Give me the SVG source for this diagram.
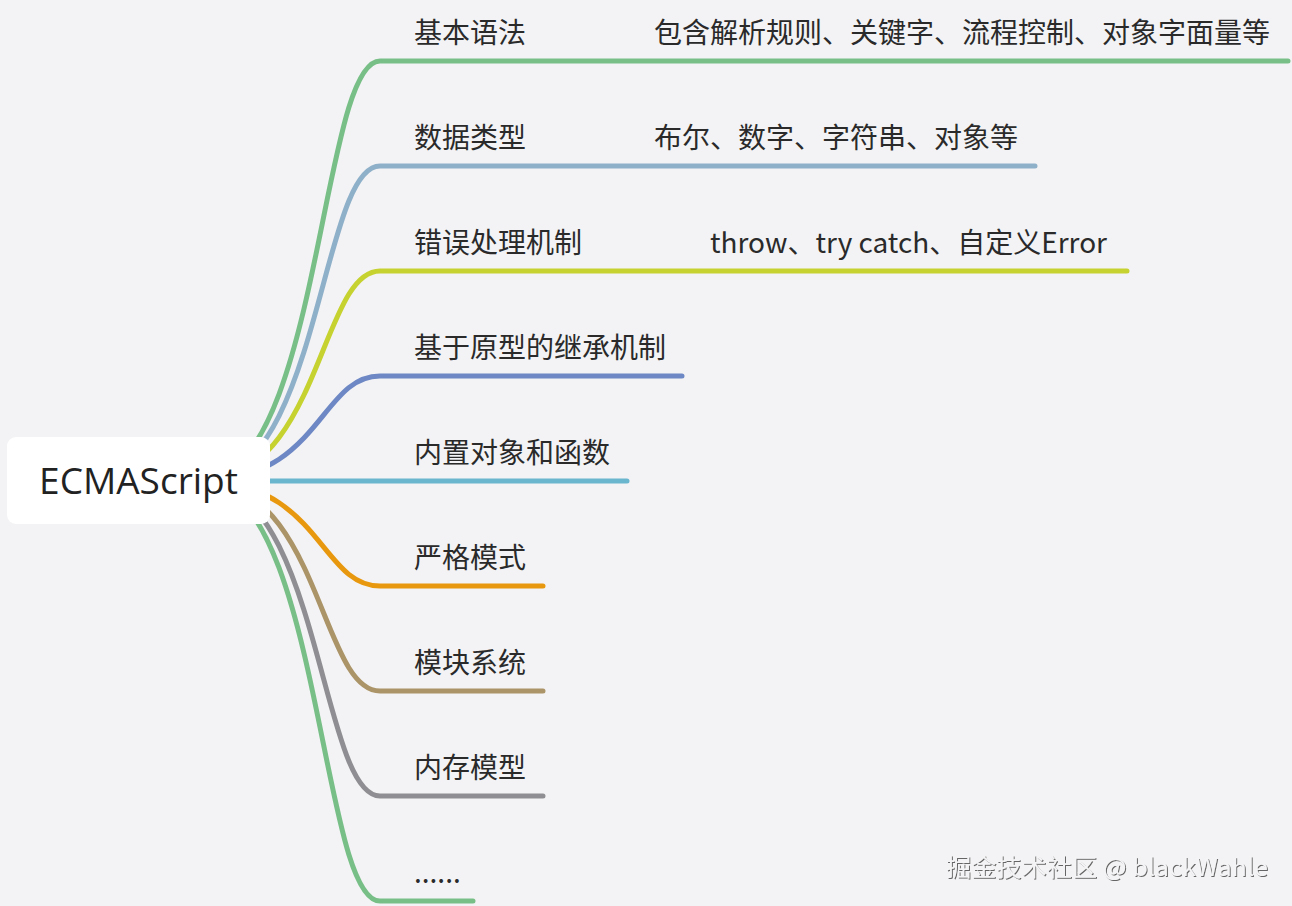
<svg xmlns="http://www.w3.org/2000/svg" width="1292" height="906" viewBox="0 0 1292 906">
<defs>
<style>
.bg{fill:#f3f3f5}
.c{fill:none;stroke-width:5;stroke-linecap:round}
.t{font-family:"Noto Sans CJK SC","Microsoft YaHei",sans-serif;font-size:28px;fill:#2a2a2a}
.root{fill:#ffffff}
.rt{font-family:"Open Sans","Noto Sans",sans-serif;font-size:37px;fill:#222}
.wm{font-family:"Noto Sans CJK SC",sans-serif;font-size:24px;fill:#f4f4f6}
</style>
<filter id="emb" x="-5%" y="-30%" width="110%" height="160%">
<feDropShadow dx="1" dy="1" stdDeviation="0.4" flood-color="#555" flood-opacity="0.9"/>
</filter>
</defs>
<rect class="bg" x="0" y="0" width="1292" height="906"/>
<g id="connectors">
<path class="c" stroke="#78bf87" d="M200 481 C320 481 320 61 380 61 L1288 61"/>
<path class="c" stroke="#8fb0c9" d="M200 481 C320 481 320 166 380 166 L1035 166"/>
<path class="c" stroke="#c6d230" d="M200 481 C320 481 320 271 380 271 L1127 271"/>
<path class="c" stroke="#6d88c4" d="M200 481 C320 481 320 376 380 376 L682 376"/>
<path class="c" stroke="#6ab6cf" d="M200 481 L627 481"/>
<path class="c" stroke="#e8980e" d="M200 481 C320 481 320 586 380 586 L543 586"/>
<path class="c" stroke="#ab9467" d="M200 481 C320 481 320 691 380 691 L543 691"/>
<path class="c" stroke="#8f8f93" d="M200 481 C320 481 320 796 380 796 L543 796"/>
<path class="c" stroke="#78bf87" d="M200 481 C320 481 320 901 380 901 L473 901"/>
</g>
<g id="root">
<rect class="root" x="7" y="437" width="263" height="87" rx="9"/>
<text class="rt" x="138.5" y="494" text-anchor="middle">ECMAScript</text>
</g>
<g id="n1"><text class="t" x="414" y="43">基本语法</text></g>
<g id="n1a"><text class="t" x="654" y="43">包含解析规则、关键字、流程控制、对象字面量等</text></g>
<g id="n2"><text class="t" x="414" y="148">数据类型</text></g>
<g id="n2a"><text class="t" x="654" y="148">布尔、数字、字符串、对象等</text></g>
<g id="n3"><text class="t" x="414" y="253">错误处理机制</text></g>
<g id="n3a"><text class="t" x="710" y="253">throw、try catch、自定义Error</text></g>
<g id="n4"><text class="t" x="414" y="358">基于原型的继承机制</text></g>
<g id="n5"><text class="t" x="414" y="463">内置对象和函数</text></g>
<g id="n6"><text class="t" x="414" y="568">严格模式</text></g>
<g id="n7"><text class="t" x="414" y="673">模块系统</text></g>
<g id="n8"><text class="t" x="414" y="778">内存模型</text></g>
<g id="n9"><text class="t" x="414" y="883">......</text></g>
<g id="watermark"><text class="wm" x="946" y="876" textLength="322" lengthAdjust="spacingAndGlyphs" filter="url(#emb)">掘金技术社区 @ blackWahle</text></g>
</svg>
